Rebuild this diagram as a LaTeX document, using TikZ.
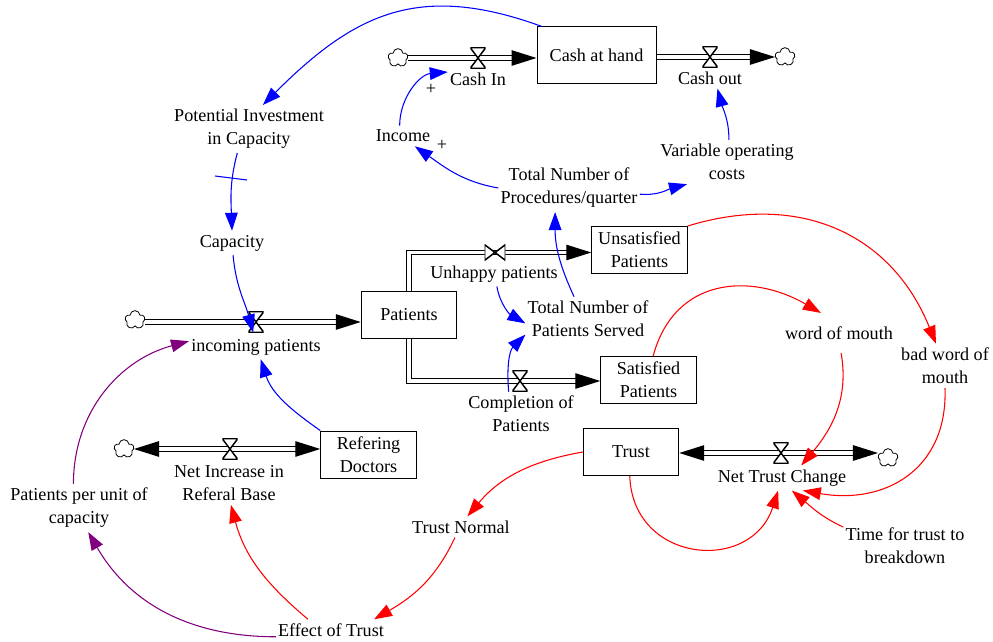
\documentclass[tikz,border=0pt]{standalone}
\usepackage{fontspec}
\setmainfont{Liberation Serif}
\usetikzlibrary{arrows.meta,shapes.symbols}

\definecolor{linkpurple}{RGB}{128,0,128}

\tikzset{
	every node/.style={align=center, font=\fontsize{13.6}{17.25}\selectfont, inner xsep=1.5pt, inner ysep=3pt},
	stock/.style={draw, line width=.75pt, minimum width=71.6pt, minimum height=35.25pt},
	sink/.style={cloud, cloud puffs=5, cloud puff arc=170, aspect=1.15, draw, line width=.6pt, inner sep=0pt, minimum width=15pt, minimum height=14pt},
	valve/.style={inner sep=0pt, minimum width=11.6pt, minimum height=15.4pt,
		path picture={\draw[fill=white, line width=1.1pt] (path picture bounding box.south west) -- (path picture bounding box.south east) -- (path picture bounding box.north west) -- (path picture bounding box.north east) -- cycle;}},
	valveside/.style={inner sep=0pt, minimum width=15.4pt, minimum height=11.6pt,
		path picture={\draw[fill=white, line width=1.1pt] (path picture bounding box.south west) -- (path picture bounding box.north west) -- (path picture bounding box.south east) -- (path picture bounding box.north east) -- cycle;}},
	flow/.style={double=white, double distance=2.6pt, line width=.9pt, -{Triangle[length=18.75pt,width=11.6pt]}},
	twoway/.style={flow, {Triangle[length=18.75pt,width=11.6pt]}-{Triangle[length=18.75pt,width=11.6pt]}},
	link/.style={line width=.8pt, -{Triangle[length=13.5pt,width=9.5pt]}},
	bluelink/.style={link, blue},
	redlink/.style={link, red},
	purplelink/.style={link, linkpurple},
}

\begin{document}
\begin{tikzpicture}[x=.75pt, y=-.75pt]
	\useasboundingbox (0,0) rectangle (993,642);

	% Stocks
	\node[stock, minimum width=89.25pt, minimum height=42.75pt] (cashhand) at (596.5,55.5) {Cash at hand};
	\node[stock] (patients) at (409,314.5) {Patients};
	\node[stock] (unsatisfied) at (639.5,250) {Unsatisfied\\Patients};
	\node[stock] (satisfied) at (648.5,380) {Satisfied\\Patients};
	\node[stock] (doctors) at (368.5,454.5) {Refering\\Doctors};
	\node[stock] (trust) at (631,452) {Trust};

	% Clouds
	\node[sink] (srccash) at (398,58) {};
	\node[sink] (snkcash) at (785,57) {};
	\node[sink] (srcincoming) at (135,320) {};
	\node[sink] (snkreferal) at (124,449) {};
	\node[sink] (snktrust) at (888,458) {};

	% Valves
	\coordinate (vcashin) at (478,58);
	\coordinate (vcashout) at (710,57);
	\coordinate (vincoming) at (256,322);
	\coordinate (vreferal) at (230,449);
	\coordinate (vtrust) at (781,453);
	\coordinate (vunhappy) at (495,252.5);
	\coordinate (vcompletion) at (520,381);

	% Pipes
	\draw[flow] (srccash.east |- vcashin) -- (vcashin -| cashhand.west);
	\draw[flow] (cashhand.east |- vcashout) -- (vcashout -| snkcash.west);
	\draw[flow] (srcincoming.east |- vincoming) -- (vincoming -| patients.west);
	\draw[twoway] (vreferal -| snkreferal.east) -- (vreferal -| doctors.west);
	\draw[twoway] (vtrust -| trust.east) -- (vtrust -| snktrust.west);
	\draw[flow] (patients.north) |- (vunhappy -| unsatisfied.west);
	\draw[flow] (patients.south) |- (vcompletion -| satisfied.west);

	\node[valve] (vcashinv) at (vcashin) {};
	\node[valve] (vcashoutv) at (vcashout) {};
	\node[valve] (vincomingv) at (vincoming) {};
	\node[valve] (vreferalv) at (vreferal) {};
	\node[valve] (vtrustv) at (vtrust) {};
	\node[valveside] (vunhappyv) at (vunhappy) {};
	\node[valve] (vcompletionv) at (vcompletion) {};

	% Variables
	\node (cashin) at (478,79) {Cash In};
	\node (cashout) at (710,78) {Cash out};
	\node (income) at (403,136) {Income};
	\node (investment) at (249,129) {Potential Investment\\in Capacity};
	\node (capacity) at (232,243) {Capacity};
	\node (costs) at (727,162) {Variable operating\\costs};
	\node (procedures) at (569,188) {Total Number of\\Procedures/quarter};
	\node (unhappy) at (494,274) {Unhappy patients};
	\node (served) at (588,319) {Total Number of\\Patients Served};
	\node (completion) at (521,414) {Completion of\\Patients};
	\node (incoming) at (256,347) {incoming patients};
	\node (referal) at (229,483) {Net Increase in\\Referal Base};
	\node (perunit) at (79,508) {Patients per unit of\\capacity};
	\node (effect) at (331,630) {Effect of Trust};
	\node (normal) at (461,527) {Trust Normal};
	\node (nettrust) at (782,478) {Net Trust Change};
	\node (breakdown) at (905,546) {Time for trust to\\breakdown};
	\node[inner ysep=10pt] (word) at (839,333) {word of mouth};
	\node (badword) at (945,366) {bad word of\\mouth};

	% Polarity
	\node (plusa) at (431,89) {+};
	\node (plusb) at (442,145) {+};

	% Blue links
	\draw[bluelink] (cashhand.152) to[out=160, in=45, looseness=1.15] (investment.60);
	\draw[bluelink] (income.108) to[out=90, in=185] (cashin.167);
	\draw[bluelink] (procedures.west) to[out=170, in=-35] (income.-41);
	\draw[bluelink] (procedures.-5) to[out=-5, in=195] (costs.209);
	\draw[bluelink] (costs.85) to[out=90, in=-75] (cashout.-55);
	\draw[bluelink] (served.122) to[out=115, in=-90] (procedures.-120);
	\draw[bluelink] (unhappy.-77) to[out=-80, in=150] (served.184);
	\draw[bluelink] (completion.119) to[out=95, in=225] (served.194);
	\draw[bluelink] (investment.-116) to[out=255, in=92] (capacity.north);
	\draw[bluelink] (capacity.-85) to[out=-85, in=105] (vincomingv.255);
	\draw[bluelink] (doctors.north west) to[out=145, in=-72] (incoming.-69);
	% Delay mark
	\draw[blue, line width=.8pt] (215,176) -- (247,180);

	% Purple links
	\draw[purplelink] (perunit.103) to[out=90, in=195] (incoming.175);
	\draw[purplelink] (effect.187) to[out=180, in=-60] (perunit.-69);

	% Red links
	\draw[redlink] (effect.155) to[out=140, in=-75] (referal.-85);
	\draw[redlink] (normal.-120) to[out=-115, in=30] (effect.14);
	\draw[redlink] (trust.west) to[out=190, in=50] (normal.59);
	\draw[redlink] (trust.-93) to[out=-88, in=252, looseness=1.5] (nettrust.-107);
	\draw[redlink] (breakdown.163) to[out=155, in=-40] (nettrust.-52);
	\draw[redlink] (badword.south) to[out=-88, in=-10, looseness=1.2] (nettrust.-31);
	\draw[redlink] (word.-84) to[out=-80, in=50] (nettrust.33);
	\draw[redlink] (satisfied.79) to[out=75, in=150, looseness=1.2] (word.132);
	\draw[redlink] (unsatisfied.north east) to[out=17, in=112, looseness=1.1] (badword.112);

\end{tikzpicture}
\end{document}
